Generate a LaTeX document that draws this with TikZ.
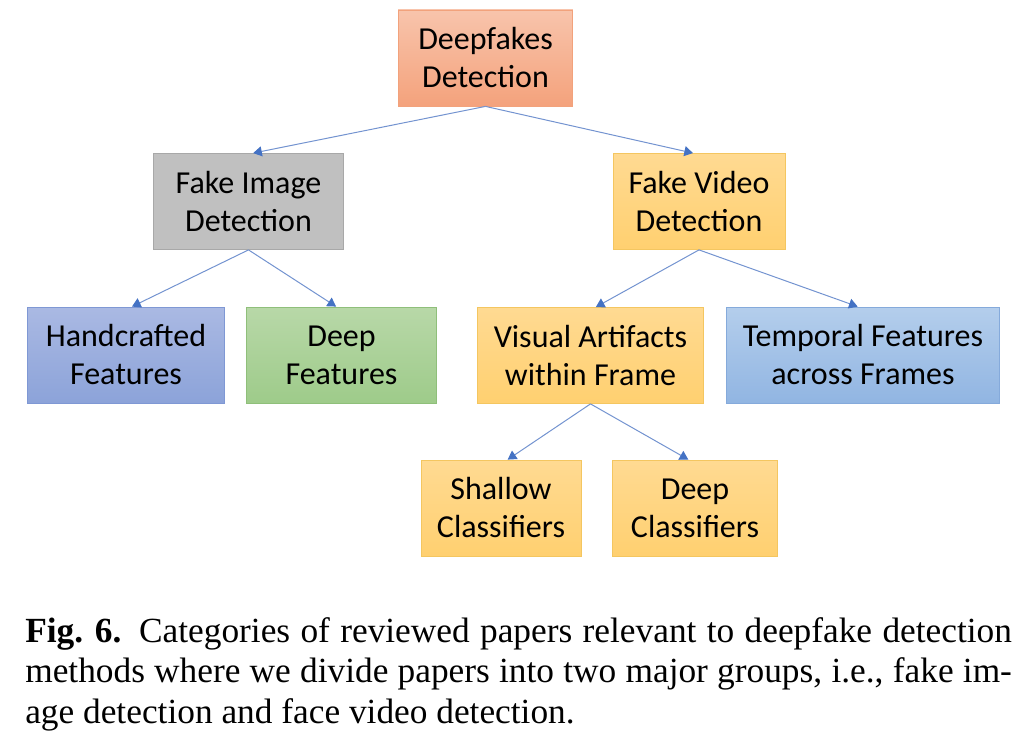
\documentclass[tikz,border=0pt]{standalone}
\usepackage{fontspec}
\setmainfont{Liberation Serif}
\newfontfamily\boxfont{Carlito}
\usetikzlibrary{arrows.meta}

\definecolor{linkblue}{HTML}{7393D0}
\definecolor{tipblue}{HTML}{4472C4}
\definecolor{rootline}{HTML}{F2A27C}
\definecolor{greyline}{HTML}{A8A8A8}
\definecolor{yellowline}{HTML}{F4C660}
\definecolor{blueline}{HTML}{7F98D4}
\definecolor{greenline}{HTML}{8FBF7A}
\definecolor{skyline}{HTML}{85AADB}

\begin{document}
\begin{tikzpicture}[x=0.75pt,y=-0.75pt,
  box/.style={draw, minimum height=72pt, inner sep=0pt, align=center, line width=0.6pt,
    font=\boxfont\fontsize{24}{28.5}\selectfont},
  rootbox/.style={box, draw=rootline, top color={rgb,255:red,248;green,196;blue,172}, bottom color={rgb,255:red,244;green,162;blue,124}},
  greybox/.style={box, draw=greyline, fill={rgb,255:red,192;green,192;blue,192}},
  yellowbox/.style={box, draw=yellowline, top color={rgb,255:red,255;green,218;blue,146}, bottom color={rgb,255:red,255;green,208;blue,112}},
  bluebox/.style={box, draw=blueline, top color={rgb,255:red,170;green,185;blue,227}, bottom color={rgb,255:red,140;green,163;blue,217}},
  greenbox/.style={box, draw=greenline, top color={rgb,255:red,184;green,216;blue,168}, bottom color={rgb,255:red,158;green,203;blue,138}},
  skybox/.style={box, draw=skyline, top color={rgb,255:red,180;green,206;blue,236}, bottom color={rgb,255:red,145;green,181;blue,226}},
  link/.style={draw=linkblue, line width=0.75pt, -{Triangle[length=6.5pt,width=7.5pt,color=tipblue]}}]
\useasboundingbox (0,0) rectangle (1022,735);

% tree of categories
\node[rootbox, minimum width=131pt] (root) at (485.5,58) {Deepfakes\\Detection};
\node[greybox, minimum width=142pt] (img) at (248.5,201.5) {Fake Image\\Detection};
\node[yellowbox, minimum width=129pt] (vid) at (699,201.5) {Fake Video\\Detection};
\node[bluebox, minimum width=148pt] (hand) at (126,355) {Handcrafted\\Features};
\node[greenbox, minimum width=142pt] (deepf) at (341.5,355) {Deep\\Features};
\node[yellowbox, minimum width=170pt] (vis) at (590.5,355.5) {Visual Artifacts\\within Frame};
\node[skybox, minimum width=205pt] (temp) at (863,355) {Temporal Features\\across Frames};
\node[yellowbox, minimum width=120pt] (shal) at (501,508) {Shallow\\Classifiers};
\node[yellowbox, minimum width=124pt] (deepc) at (695,508) {Deep\\Classifiers};

\draw[link] (root.south) -- ([xshift=3.5pt]img.north);
\draw[link] (root.south) -- ([xshift=-4.5pt]vid.north);
\draw[link] (img.south) -- ([xshift=4.5pt]hand.north);
\draw[link] (img.south) -- ([xshift=-4pt]deepf.north);
\draw[link] (vid.south) -- ([xshift=4pt]vis.north);
\draw[link] (vid.south) -- ([xshift=-4pt]temp.north);
\draw[link] (vis.south) -- ([xshift=5pt]shal.north);
\draw[link] (vis.south) -- ([xshift=-5pt]deepc.north);

% caption
\node[anchor=north west, inner sep=0pt, text width=740pt, align=justify,
  font=\fontsize{26.5}{30.5}\selectfont] (caption) at (25,617)
  {\textbf{\mbox{Fig. 6.}}\enspace Categories of reviewed papers relevant to deepfake detection methods where we divide papers into two major groups, i.e., fake im-\linebreak age detection and face video detection.};
\end{tikzpicture}
\end{document}
